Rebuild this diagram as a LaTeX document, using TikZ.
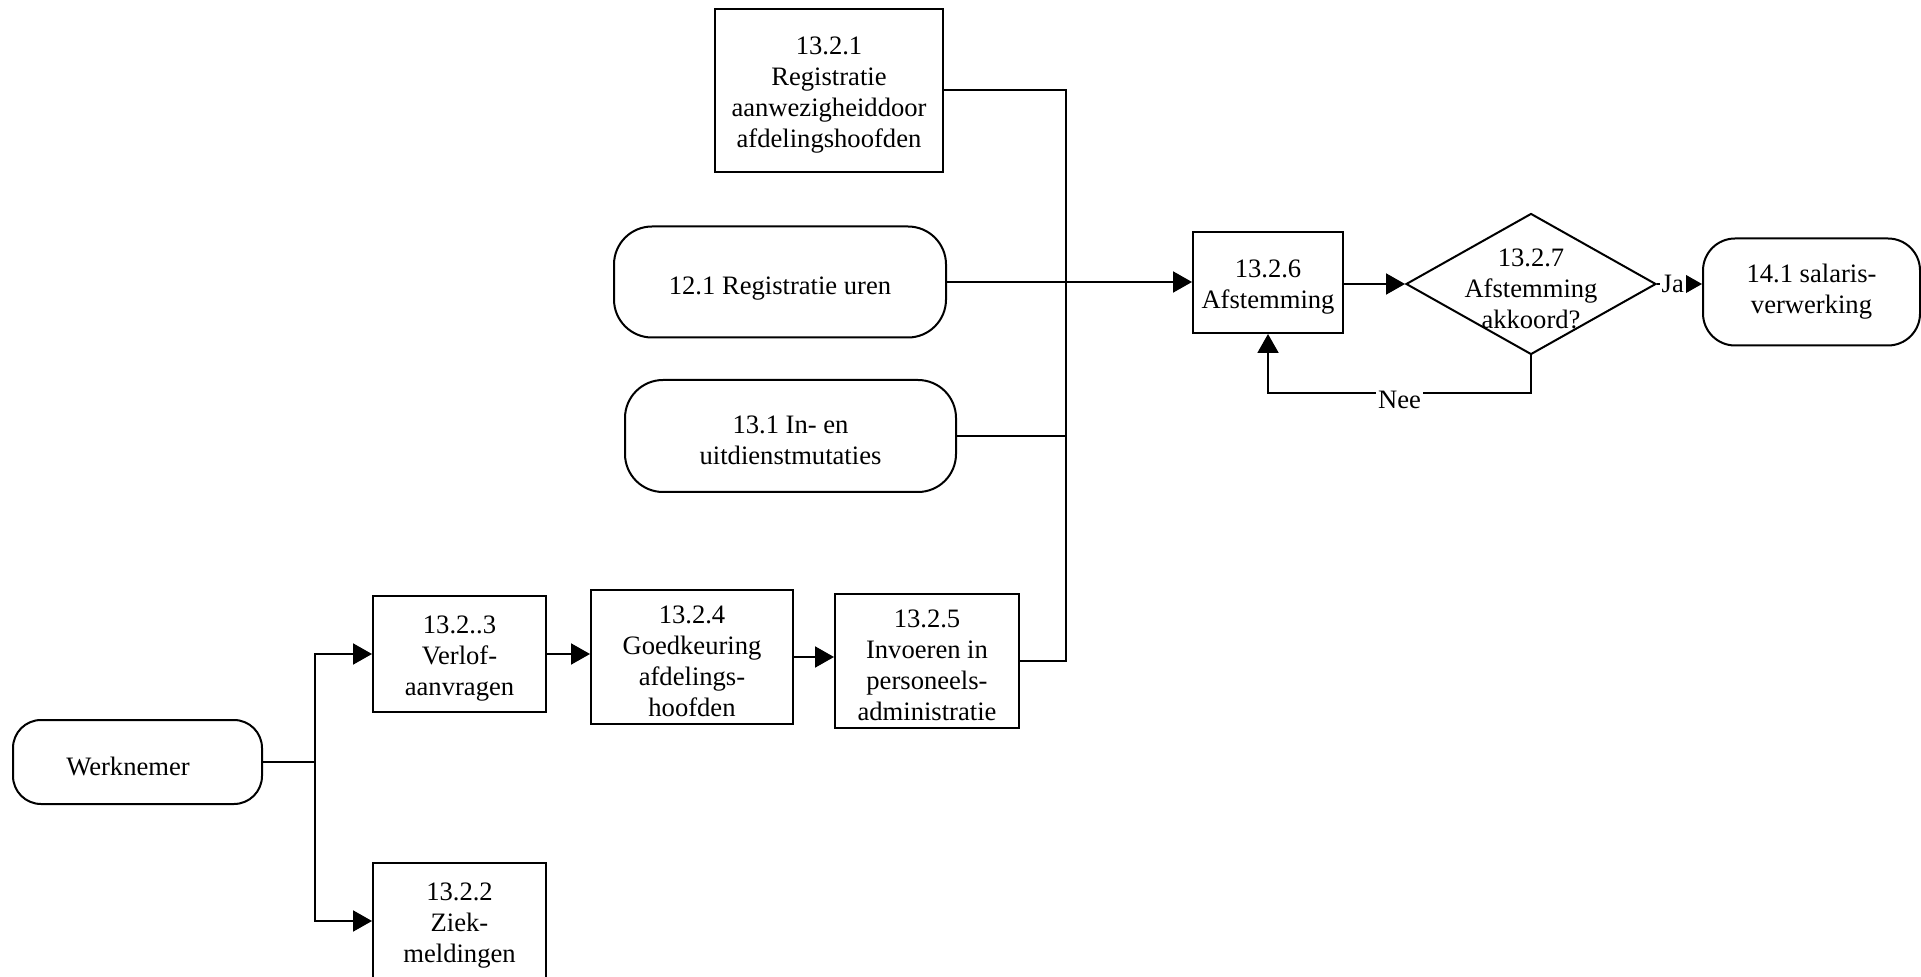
\documentclass[tikz,border=0pt]{standalone}
\usepackage{fontspec}
\setmainfont{Liberation Serif}
\usetikzlibrary{shapes.geometric,arrows.meta}
% taller first line: sets the text a little lower inside its shape
\newcommand{\lowtext}{\rule{0pt}{13.5pt}}
\begin{document}
\begin{tikzpicture}[x=0.5pt,y=-0.5pt,
  every node/.style={font=\fontsize{13.3}{15.5}\selectfont, align=center},
  box/.style={draw, line width=1pt, inner sep=0pt},
  term/.style={draw, line width=1pt, rounded corners=19pt, inner sep=0pt},
  dec/.style={draw, diamond, line width=1pt, inner sep=0pt},
  link/.style={line width=1pt},
  flow/.style={link, -{Triangle[length=9.5pt,width=10.5pt]}},
  tag/.style={fill=white, inner sep=1pt}]
\useasboundingbox (0,0) rectangle (1921,977);

% process steps
\node[box, minimum width=114pt, minimum height=81.5pt] (n1) at (829,90.5)
  {\lowtext 13.2.1\\Registratie\\aanwezigheiddoor\\afdelingshoofden};
\node[box, minimum width=75pt, minimum height=50.5pt] (n6) at (1268,282.5)
  {\lowtext 13.2.6\\Afstemming};
\node[box, minimum width=86.5pt, minimum height=58pt] (n3) at (459.5,654)
  {\lowtext 13.2..3\\Verlof-\\aanvragen};
\node[box, minimum width=101pt, minimum height=67pt] (n4) at (692,657)
  {\lowtext 13.2.4\\Goedkeuring\\afdelings-\\hoofden};
\node[box, minimum width=92pt, minimum height=67pt] (n5) at (927,661)
  {\lowtext 13.2.5\\Invoeren in\\personeels-\\administratie};
\node[box, minimum width=86.5pt, minimum height=58pt] (n2) at (459.5,921)
  {\lowtext 13.2.2\\Ziek-\\meldingen};

% terminators
\node[term, minimum width=166pt, minimum height=55.5pt] (t121) at (780,282)
  {\rule{0pt}{15pt}12.1 Registratie uren};
\node[term, minimum width=165.5pt, minimum height=56pt] (t131) at (790.5,436)
  {\lowtext 13.1 In- en\\uitdienstmutaties};
\node[term, rounded corners=16pt, minimum width=108.5pt, minimum height=53.5pt] (t14) at (1811.5,292)
  {14.1 salaris-\\verwerking};
\node[term, rounded corners=14pt, minimum width=124.5pt, minimum height=42pt] (wk) at (137.5,762)
  {\hspace*{-9.5pt}\lowtext Werknemer};

% decision
\node[dec, minimum width=125pt, minimum height=70.5pt,
  label={[align=center]center:{\lowtext 13.2.7\\Afstemming\\akkoord?}}] (d7) at (1531,284) {};

% collecting trunk and branch points
\coordinate (trunk) at (1066,0);
\coordinate (br) at (315,0);

\draw[link] (n1.east) -| (trunk |- n5.east) -- (n5.east);
\draw[link] (t131.east) -- (t131.east -| trunk);
\draw[flow] (t121.east) -- (n6.west |- t121.east);
\draw[flow] (n6.east |- d7.west) -- (d7.west);
\draw[flow] (d7.east) -- (d7.east -| t14.west) node[tag, pos=0.35] {Ja};
\draw[flow] (d7.south) -- ++(0,38) -| (n6.south) node[tag, pos=0.25, yshift=-3pt] {Nee};

\draw[link] (wk.east) -- (wk.east -| br);
\draw[flow] (wk.east -| br) |- (n3.west);
\draw[flow] (wk.east -| br) |- (n2.west);
\draw[flow] (n3.east) -- (n3.east -| n4.west);
\draw[flow] (n4.east) -- (n4.east -| n5.west);
\end{tikzpicture}
\end{document}
